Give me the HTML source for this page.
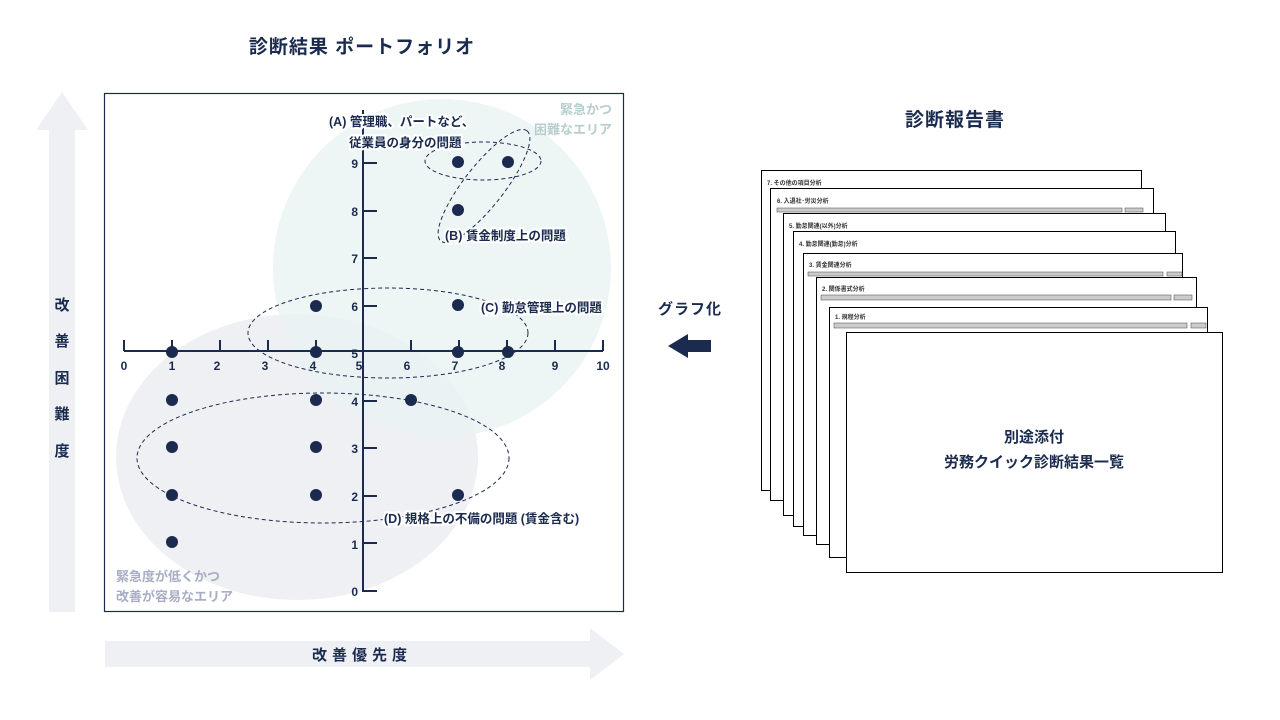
<!DOCTYPE html>
<html><head><meta charset="utf-8"><style>
body{margin:0;width:1280px;height:715px;background:#fff;overflow:hidden}
svg text{font-family:"Liberation Sans","Noto Sans CJK JP",sans-serif;font-weight:bold}
</style></head><body>
<svg width="1280" height="715" viewBox="0 0 1280 715" xmlns="http://www.w3.org/2000/svg">
<g fill="#1a2b4f">
<text x="362" y="53" font-size="19" text-anchor="middle" letter-spacing="1">診断結果 ポートフォリオ</text>
<text x="955" y="126" font-size="19" text-anchor="middle" letter-spacing="1">診断報告書</text>
<text x="690" y="314" font-size="15" text-anchor="middle" letter-spacing="1">グラフ化</text>
</g>
<!-- side arrows -->
<polygon points="49,612 75,612 75,130 88,130 62,92 36,130 49,130" fill="#eff0f4"/>
<polygon points="105,641 590,641 590,628 624,654 590,680 590,667 105,667" fill="#eff0f4"/>
<g fill="#1a2b4f" font-size="15" text-anchor="middle">
<text x="62" y="310">改</text><text x="62" y="346">善</text><text x="62" y="383">困</text><text x="62" y="419">難</text><text x="62" y="456">度</text>
<text x="362" y="660" letter-spacing="5">改善優先度</text>
</g>
<!-- chart box -->
<rect x="104.5" y="93.5" width="519" height="518" fill="#fff" stroke="#1a2b4f" stroke-width="1.2"/>
<ellipse cx="297" cy="457" rx="181" ry="143" fill="#eff0f4"/>
<circle cx="442" cy="268" r="169" fill="#eaf3f2" fill-opacity="0.8"/>
<g fill="#b7cfcc" font-size="13" text-anchor="end"><text x="612" y="114">緊急かつ</text><text x="612" y="134">困難なエリア</text></g>
<g fill="#a7adc4" font-size="13"><text x="116" y="581">緊急度が低くかつ</text><text x="116" y="601">改善が容易なエリア</text></g>
<!-- axes -->
<g stroke="#1a2b4f" stroke-width="2">
<line x1="124" y1="351" x2="603" y2="351"/>
<line x1="363" y1="110" x2="363" y2="592"/>
<line x1="124" y1="340" x2="124" y2="351"/><line x1="172" y1="340" x2="172" y2="351"/><line x1="220" y1="340" x2="220" y2="351"/><line x1="268" y1="340" x2="268" y2="351"/><line x1="316" y1="340" x2="316" y2="351"/><line x1="411" y1="340" x2="411" y2="351"/><line x1="459" y1="340" x2="459" y2="351"/><line x1="507" y1="340" x2="507" y2="351"/><line x1="555" y1="340" x2="555" y2="351"/><line x1="603" y1="340" x2="603" y2="351"/>
<line x1="363" y1="591" x2="377" y2="591"/><line x1="363" y1="543" x2="377" y2="543"/><line x1="363" y1="496" x2="377" y2="496"/><line x1="363" y1="448" x2="377" y2="448"/><line x1="363" y1="401" x2="377" y2="401"/><line x1="363" y1="306" x2="377" y2="306"/><line x1="363" y1="258" x2="377" y2="258"/><line x1="363" y1="211" x2="377" y2="211"/><line x1="363" y1="163" x2="377" y2="163"/>
</g>
<g fill="#1a2b4f" font-size="12" text-anchor="middle">
<text x="124" y="370">0</text><text x="172" y="370">1</text><text x="217" y="370">2</text><text x="265" y="370">3</text><text x="313" y="370">4</text><text x="359" y="370">5</text><text x="407" y="370">6</text><text x="455" y="370">7</text><text x="502" y="370">8</text><text x="555" y="370">9</text><text x="603" y="370">10</text>
</g>
<g fill="#1a2b4f" font-size="12" text-anchor="end">
<text x="358" y="596">0</text><text x="358" y="549">1</text><text x="358" y="501">2</text><text x="358" y="453">3</text><text x="358" y="406">4</text><text x="358" y="358">5</text><text x="358" y="311">6</text><text x="358" y="263">7</text><text x="358" y="216">8</text><text x="358" y="168">9</text>
</g>
<!-- dots -->
<g fill="#1a2b4f">
<circle cx="458" cy="162" r="6"/><circle cx="508" cy="162" r="6"/><circle cx="458" cy="210" r="6"/>
<circle cx="316" cy="306" r="6"/><circle cx="458" cy="305" r="6"/>
<circle cx="172" cy="352" r="6"/><circle cx="316" cy="352" r="6"/><circle cx="458" cy="352" r="6"/><circle cx="508" cy="352" r="6"/>
<circle cx="172" cy="400" r="6"/><circle cx="316" cy="400" r="6"/><circle cx="411" cy="400" r="6"/>
<circle cx="172" cy="447" r="6"/><circle cx="316" cy="447" r="6"/>
<circle cx="172" cy="495" r="6"/><circle cx="316" cy="495" r="6"/><circle cx="458" cy="495" r="6"/>
<circle cx="172" cy="542" r="6"/>
</g>
<!-- dashed ellipses -->
<g fill="none" stroke="#1a2b4f" stroke-width="1" stroke-dasharray="4,3">
<ellipse cx="483" cy="161" rx="58" ry="19"/>
<ellipse cx="484" cy="186" rx="70" ry="20" transform="rotate(-52 484 186)"/>
<ellipse cx="388" cy="333" rx="140" ry="45"/>
<ellipse cx="323" cy="458" rx="186" ry="65"/>
</g>
<g font-size="12.5" fill="#1a2b4f" stroke="#fff" stroke-width="4" paint-order="stroke">
<text x="329" y="126">(A) 管理職、パートなど、</text>
<text x="349" y="147">従業員の身分の問題</text>
<text x="445" y="240">(B) 賃金制度上の問題</text>
<text x="481" y="312">(C) 勤怠管理上の問題</text>
<text x="384" y="523">(D) 規格上の不備の問題 (賃金含む)</text>
</g>
<!-- arrow -->
<polygon points="668,346 688,334 688,340 711,340 711,352 688,352 688,358" fill="#1a2b4f"/>
<!-- pages -->
<g fill="#fff" stroke="#000" stroke-width="1">
<rect x="761.5" y="170.5" width="380" height="320"/>
<rect x="770.5" y="188.5" width="383" height="312"/>
<rect x="783.5" y="213.5" width="382" height="302"/>
<rect x="793.5" y="231.5" width="382" height="295"/>
<rect x="803.5" y="253.5" width="379" height="282"/>
<rect x="816.5" y="277.5" width="380" height="267"/>
<rect x="829.5" y="307.5" width="378" height="250"/>
<rect x="846.5" y="332.5" width="376" height="240"/>
</g>
<g font-size="6" fill="#333" font-weight="normal">
<text x="767" y="185">7. その他の項目分析</text>
<text x="777" y="203">6. 入退社･労災分析</text>
<text x="789" y="228">5. 勤怠関連(以外)分析</text>
<text x="799" y="246">4. 勤怠関連(勤怠)分析</text>
<text x="809" y="267">3. 賃金関連分析</text>
<text x="822" y="291">2. 関係書式分析</text>
<text x="835" y="319">1. 規程分析</text>
</g>
<g fill="#ccc" stroke="#444" stroke-width="0.5">
<rect x="777" y="208" width="345" height="4"/><rect x="1125" y="208" width="18" height="4"/>
<rect x="808" y="272" width="355" height="4"/><rect x="1167" y="272" width="15" height="4"/>
<rect x="821" y="295" width="350" height="5"/><rect x="1174" y="295" width="18" height="5"/>
<rect x="834" y="323" width="353" height="5"/><rect x="1191" y="323" width="15" height="5"/>
</g>
<g fill="#1a2b4f" font-size="15" text-anchor="middle">
<text x="1034" y="442">別途添付</text>
<text x="1034" y="467">労務クイック診断結果一覧</text>
</g>
</svg>
</body></html>
